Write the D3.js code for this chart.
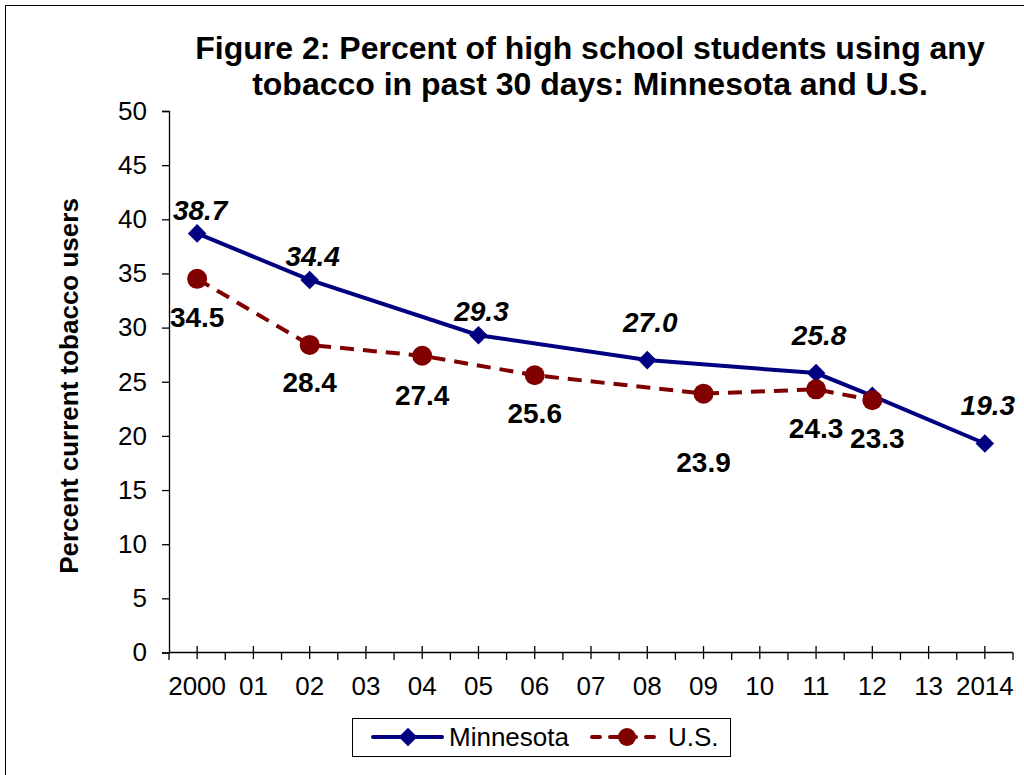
<!DOCTYPE html>
<html><head><meta charset="utf-8">
<script src="https://cdn.jsdelivr.net/npm/d3@7"></script>
<style>body{margin:0;background:#fff}svg{display:block}text{font-family:Arial,"Liberation Sans",sans-serif}</style>
</head><body><svg id="c" width="1024" height="775"></svg>
<script>
const years = ["2000","01","02","03","04","05","06","07","08","09","10","11","12","13","2014"];
const mnYears = ["2000","02","05","08","11","12","2014"];
const mnValues = [38.7,34.4,29.3,27.0,25.8,23.7,19.3];
const mnLabels = ["38.7","34.4","29.3","27.0","25.8","","19.3"];
const usYears = ["2000","02","04","06","09","11","12"];
const usValues = [34.5,28.4,27.4,25.6,23.9,24.3,23.3];
const usLabels = ["34.5","28.4","27.4","25.6","23.9","24.3","23.3"];
const yTicks = [0,5,10,15,20,25,30,35,40,45,50];
const titleLines = ["Figure 2: Percent of high school students using any","tobacco in past 30 days: Minnesota and U.S."];
const yTitle = "Percent current tobacco users";
const seriesNames = ["Minnesota","U.S."];

// label placement (style, not data)
const mnDy = [-13,-14,-14,-28,-28,0,-28];
const usDy = [48,47,49,48,78,49,48];
const usDx = [0,0,0,0,0,0,5];

const svg = d3.select("#c");
const navy = "#000080", red = "#800000";
svg.append("rect").attr("x",5.5).attr("y",5.5).attr("width",1040).attr("height",800)
  .attr("fill","none").attr("stroke","#000").attr("stroke-width",1);

const x = d3.scaleBand().domain(years).range([169,1013]);
const y = d3.scaleLinear().domain([0,50]).range([652.5,111]);
const cx = d => x(d) + x.bandwidth()/2;

// title
svg.append("g").selectAll("text").data(titleLines).join("text")
  .attr("x",590).attr("y",(d,i)=>59+i*36).attr("text-anchor","middle")
  .attr("font-size",32).attr("font-weight","bold").text(d=>d);

// y axis
const yAxis = svg.append("g").attr("transform","translate(169,0)")
  .call(d3.axisLeft(y).tickValues(yTicks).tickSize(7).tickPadding(15));
yAxis.select(".domain").attr("stroke","#000").attr("stroke-width",1.3);
yAxis.selectAll(".tick line").attr("stroke","#000").attr("stroke-width",1.3);
yAxis.selectAll("text").attr("font-size",26).attr("fill","#000").attr("font-family","Arial, 'Liberation Sans', sans-serif");

// x axis: boundary ticks down, centre ticks across
const bounds = years.map(d=>x(d)).concat([x.range()[1]]);
const xg = svg.append("g");
xg.append("line").attr("x1",169).attr("x2",1013).attr("y1",652.5).attr("y2",652.5).attr("stroke","#000").attr("stroke-width",1.3);
xg.selectAll("line.b").data(bounds).join("line").attr("class","b")
  .attr("x1",d=>d).attr("x2",d=>d).attr("y1",652.5).attr("y2",660).attr("stroke","#000").attr("stroke-width",1.3);
xg.selectAll("line.c").data(years).join("line").attr("class","c")
  .attr("x1",d=>cx(d)).attr("x2",d=>cx(d)).attr("y1",646).attr("y2",659).attr("stroke","#000").attr("stroke-width",1.3);
xg.selectAll("text").data(years).join("text")
  .attr("x",d=>cx(d)).attr("y",695).attr("text-anchor","middle").attr("font-size",26).text(d=>d);

// y title
svg.append("text").attr("transform","translate(78,386) rotate(-90)").attr("text-anchor","middle")
  .attr("font-size",26).attr("font-weight","bold").text(yTitle);

const line = d3.line().x(d=>cx(d[0])).y(d=>y(d[1]));
const mn = mnYears.map((d,i)=>[d,mnValues[i]]);
const us = usYears.map((d,i)=>[d,usValues[i]]);

svg.append("path").datum(us).attr("d",line).attr("fill","none").attr("stroke",red)
  .attr("stroke-width",4).attr("stroke-dasharray","14,9");
svg.append("path").datum(mn).attr("d",line).attr("fill","none").attr("stroke",navy)
  .attr("stroke-width",4);

const diamond = d3.symbol().type(d3.symbolDiamond2).size(220);
svg.append("g").selectAll("path").data(mn).join("path")
  .attr("d",diamond).attr("transform",d=>`translate(${cx(d[0])},${y(d[1])})`)
  .attr("fill",navy);
svg.append("g").selectAll("circle").data(us).join("circle")
  .attr("cx",d=>cx(d[0])).attr("cy",d=>y(d[1])).attr("r",10).attr("fill",red);

svg.append("g").selectAll("text").data(mn).join("text")
  .attr("x",d=>cx(d[0])+3).attr("y",(d,i)=>y(d[1])+mnDy[i]).attr("text-anchor","middle")
  .attr("font-size",28).attr("font-weight","bold").attr("font-style","italic").text((d,i)=>mnLabels[i]);
svg.append("g").selectAll("text").data(us).join("text")
  .attr("x",(d,i)=>cx(d[0])+usDx[i]).attr("y",(d,i)=>y(d[1])+usDy[i]).attr("text-anchor","middle")
  .attr("font-size",28).attr("font-weight","bold").text((d,i)=>usLabels[i]);

// legend
const lg = svg.append("g");
lg.append("rect").attr("x",352.5).attr("y",718.5).attr("width",378).attr("height",38)
  .attr("fill","#fff").attr("stroke","#000").attr("stroke-width",1);
lg.append("line").attr("x1",373).attr("x2",442).attr("y1",737).attr("y2",737).attr("stroke",navy).attr("stroke-width",4).attr("stroke-linecap","round");
lg.append("path").attr("d",diamond).attr("transform","translate(408,737)").attr("fill",navy);
lg.append("text").attr("x",449).attr("y",746).attr("font-size",26).text(seriesNames[0]);
lg.append("line").attr("x1",592).attr("x2",662).attr("y1",737).attr("y2",737).attr("stroke",red).attr("stroke-width",4)
  .attr("stroke-dasharray","8,10").attr("stroke-linecap","round");
lg.append("circle").attr("cx",627).attr("cy",737).attr("r",9).attr("fill",red);
lg.append("text").attr("x",668).attr("y",746).attr("font-size",26).text(seriesNames[1]);
</script></body></html>
